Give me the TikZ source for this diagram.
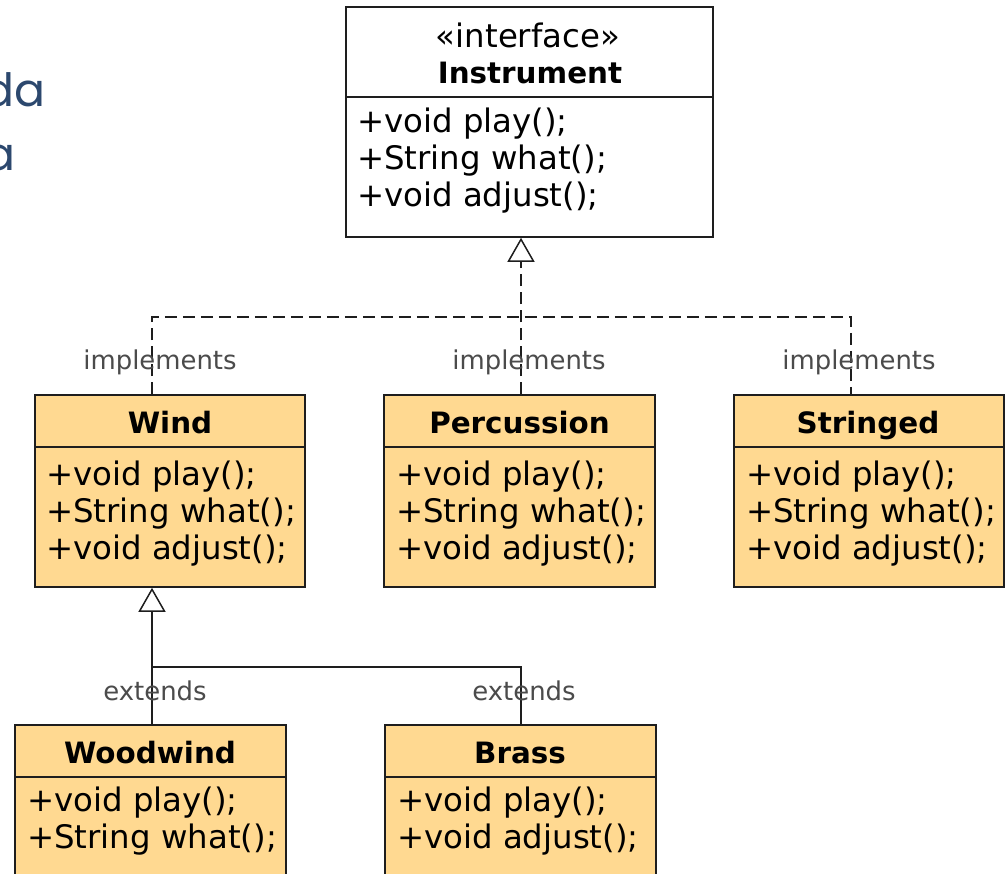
\documentclass[tikz,border=0pt]{standalone}
\usepackage{fontspec}
\setmainfont{DejaVu Sans}
\newfontfamily\slidefont{Poppins}
\usetikzlibrary{arrows.meta,fit}
\definecolor{clsfill}{RGB}{255,217,145}
\definecolor{slideblue}{RGB}{44,72,110}
\definecolor{lblgray}{RGB}{75,75,75}
\definecolor{edge}{RGB}{30,30,30}
\begin{document}
\begin{tikzpicture}[x=1bp,y=-1bp,
  clsbox/.style={draw=edge, line width=1.6bp, fill=clsfill, inner sep=0pt},
  ifbox/.style={draw=edge, line width=1.6bp, fill=white, inner sep=0pt},
  divider/.style={draw=edge, line width=1.6bp},
  ctitle/.style={font=\fontsize{29.5}{35}\selectfont\bfseries, inner sep=0pt, anchor=base},
  stereo/.style={font=\fontsize{32.5}{37}\selectfont, inner sep=0pt, anchor=base},
  meth/.style={font=\fontsize{32.5}{37}\selectfont, inner sep=0pt, anchor=base west},
  lbl/.style={font=\fontsize{26}{30}\selectfont, text=lblgray, inner sep=0pt, anchor=base},
  conn/.style={line width=1.5bp, draw=edge},
  impl/.style={conn, dash pattern=on 12bp off 6bp},
  gen/.style={-{Triangle[open, length=24bp, width=27bp, line width=1.5bp]}},
  slidetxt/.style={font=\slidefont\fontsize{46}{55}\selectfont, text=slideblue, inner sep=0pt, anchor=base east},
]
\useasboundingbox (0,0) rectangle (1005,874);
\clip (0,0) rectangle (1005,874);
\fill[white] (0,0) rectangle (1005,874);

% partial slide title text
\node[slidetxt] (s1) at (46,106) {da};
\node[slidetxt] (s2) at (16,170) {a};

% interface Instrument
\node[ifbox, fit={(346,7) (713,237)}] (inst) {};
\draw[divider] (inst.west |- 0,97) -- (inst.east |- 0,97);
\node[stereo] (instS) at (528,47) {«interface»};
\node[ctitle] (instT) at (530,83) {Instrument};
\node[meth] (inst1) at (357,132) {+void play();};
\node[meth] (inst2) at (357,169) {+String what();};
\node[meth] (inst3) at (357,206) {+void adjust();};

% Wind
\node[clsbox, fit={(35,395) (305,587)}] (wind) {};
\draw[divider] (wind.west |- 0,447) -- (wind.east |- 0,447);
\node[ctitle] (windT) at (170,433) {Wind};
\node[meth] (wind1) at (46,485) {+void play();};
\node[meth] (wind2) at (46,522) {+String what();};
\node[meth] (wind3) at (46,559) {+void adjust();};

% Percussion
\node[clsbox, fit={(384,395) (655,587)}] (perc) {};
\draw[divider] (perc.west |- 0,447) -- (perc.east |- 0,447);
\node[ctitle] (percT) at (519.5,433) {Percussion};
\node[meth] (perc1) at (396,485) {+void play();};
\node[meth] (perc2) at (396,522) {+String what();};
\node[meth] (perc3) at (396,559) {+void adjust();};

% Stringed
\node[clsbox, fit={(734,395) (1004,587)}] (stri) {};
\draw[divider] (stri.west |- 0,447) -- (stri.east |- 0,447);
\node[ctitle] (striT) at (868,433) {Stringed};
\node[meth] (stri1) at (746,485) {+void play();};
\node[meth] (stri2) at (746,522) {+String what();};
\node[meth] (stri3) at (746,559) {+void adjust();};

% Woodwind
\node[clsbox, fit={(15,725) (286,905)}] (wood) {};
\draw[divider] (wood.west |- 0,777) -- (wood.east |- 0,777);
\node[ctitle] (woodT) at (150,763) {Woodwind};
\node[meth] (wood1) at (27,811) {+void play();};
\node[meth] (wood2) at (27,848) {+String what();};

% Brass
\node[clsbox, fit={(385,725) (656,905)}] (brass) {};
\draw[divider] (brass.west |- 0,777) -- (brass.east |- 0,777);
\node[ctitle] (brassT) at (520,763) {Brass};
\node[meth] (brass1) at (397,811) {+void play();};
\node[meth] (brass2) at (397,848) {+void adjust();};

% connectors
\coordinate (jl) at (152,317);
\coordinate (jm) at (521,317);
\coordinate (jr) at (851,317);
\coordinate (je) at (152,667);

\draw[impl] (wind.north -| jl) -- (jl) -- (jr) -- (stri.north -| jr);
\draw[impl, gen] (perc.north -| jm) -- (inst.south -| jm);
\draw[conn, gen] (wood.north -| je) -- (wind.south -| je);
\draw[conn] (brass.north -| jm) |- (je);

% labels
\node[lbl] (l1) at (160,369) {implements};
\node[lbl] (l2) at (529,369) {implements};
\node[lbl] (l3) at (859,369) {implements};
\node[lbl] (l4) at (155,700) {extends};
\node[lbl] (l5) at (524,700) {extends};
\end{tikzpicture}
\end{document}
